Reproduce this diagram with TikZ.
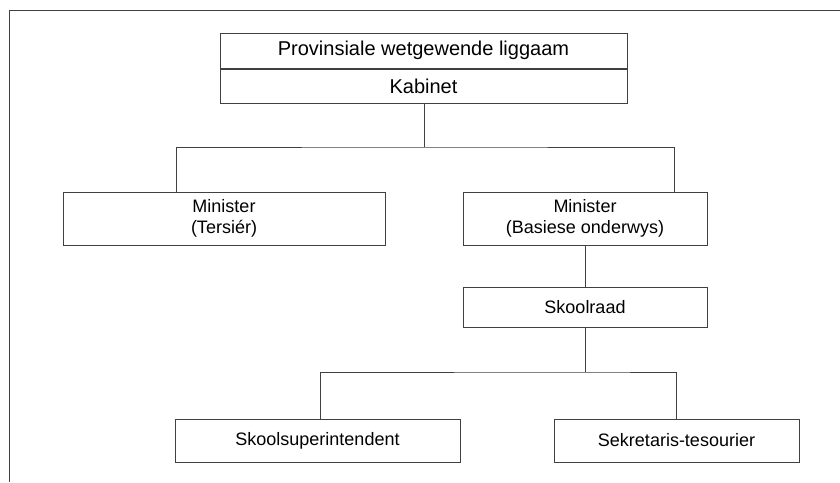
\documentclass[tikz,border=0pt]{standalone}
\usepackage{fontspec}
\setmainfont{Liberation Sans}
\begin{document}
\begin{tikzpicture}[x=1pt,y=-1pt,
  ln/.style={draw=black!75, line width=1pt},
  box/.style={ln, rectangle, inner sep=0pt, align=center, font=\fontsize{18}{20.5}\selectfont, text=black},
  bigbox/.style={box, font=\fontsize{20}{22}\selectfont},
]
\useasboundingbox (0,0) rectangle (840,482);
\fill[white] (0,0) rectangle (840,482);
% frame (top and left edges)
\coordinate (f1) at (840,10);
\coordinate (f2) at (9,10);
\coordinate (f3) at (9,482);
\draw[ln] (f1) -- (f2) -- (f3);
% top box
\node[bigbox, minimum width=407pt, minimum height=35pt] (prov) at (423.5,50.5) {Provinsiale wetgewende liggaam};
\node[bigbox, minimum width=407pt, minimum height=34pt, anchor=north] (kab) at (prov.south) {Kabinet};
% ministers
\node[box, minimum width=322pt, minimum height=53pt] (mt) at (224,218.5) {Minister\\(Tersiér)};
\node[box, minimum width=244pt, minimum height=53pt] (mb) at (585,218.5) {Minister\\(Basiese onderwys)};
\node[box, minimum width=244pt, minimum height=40pt] (sr) at (585,307) {Skoolraad};
\node[box, minimum width=285pt, minimum height=43pt] (ss) at (317.5,440.5) {Skoolsuperintendent};
\node[box, minimum width=245pt, minimum height=43pt] (st) at (676.5,440.5) {Sekretaris-tesourier};
% connectors
\coordinate (j1) at (424,147);
\draw[ln] (kab.south -| j1) -- (j1);
\draw[ln] (mt.north -| 176,0) |- (j1) -| (mb.north -| 674,0);
\draw[ln] (mb.south) -- (sr.north);
\coordinate (j2) at (585,372);
\draw[ln] (sr.south) -- (j2);
\draw[ln] (ss.north -| 320,0) |- (j2) -| (st.north -| 676,0);
\end{tikzpicture}
\end{document}
